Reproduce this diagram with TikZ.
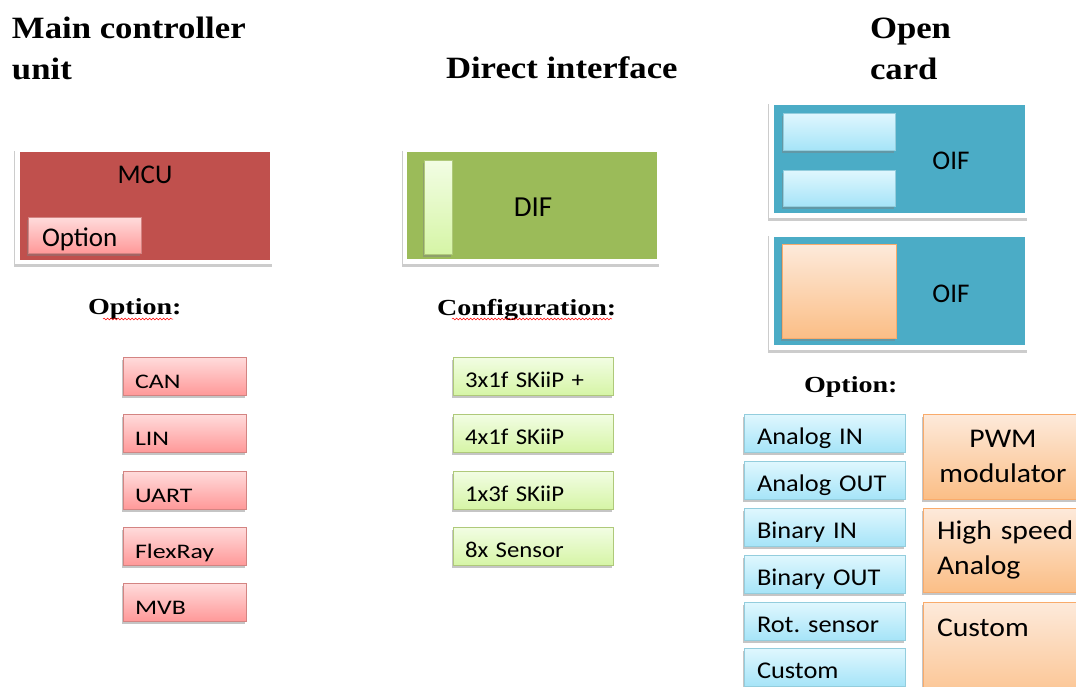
\documentclass[tikz,border=0pt]{standalone}
\usepackage{fontspec}
\setmainfont{Carlito}
\newfontfamily\cA{Carlito}
\newfontfamily\cB[FakeStretch=1.25, WordSpace=0.5]{Carlito}
\newfontfamily\cC[FakeStretch=1.1, WordSpace=0.5]{Carlito}
\newfontfamily\sT[FakeStretch=1.12]{Liberation Serif}
\newfontfamily\sO[FakeStretch=1.22]{Liberation Serif}
\usetikzlibrary{shadows,decorations.pathmorphing}
\frenchspacing
\definecolor{mred}{HTML}{C0504D}
\definecolor{mgreen}{HTML}{9BBB59}
\definecolor{mblue}{HTML}{4BACC6}
\definecolor{morange}{HTML}{F79646}
\definecolor{lbtop}{HTML}{E0F7FE}
\definecolor{lbbot}{HTML}{A6E4F8}
\definecolor{lgtop}{HTML}{F2FDE4}
\definecolor{lgbot}{HTML}{D6F5A6}
\definecolor{lrtop}{HTML}{FFDCDC}
\definecolor{lrbot}{HTML}{FF9999}
\definecolor{lotop}{HTML}{FDEADB}
\definecolor{lobot}{HTML}{FBBE86}
\tikzset{
  frame/.style={fill=white, anchor=north west, drop shadow={shadow xshift=-1.5pt, shadow yshift=-2.5pt, opacity=0.4}},
  panel/.style={anchor=north west},
  sub/.style={anchor=north west, drop shadow={shadow xshift=-1.5pt, shadow yshift=-2.5pt, opacity=0.45}},
  pinkbox/.style={sub, draw=mred!70, line width=0.6pt, top color=lrtop, bottom color=lrbot},
  greenbox/.style={sub, draw=mgreen!80, line width=0.6pt, top color=lgtop, bottom color=lgbot},
  bluebox/.style={sub, draw=mblue!60, line width=0.6pt, top color=lbtop, bottom color=lbbot},
  orangebox/.style={sub, draw=morange!80, line width=0.6pt, top color=lotop, bottom color=lobot},
  listitem/.style={align=left, minimum height=38pt, text depth=0pt},
  title/.style={font=\sT\bfseries\fontsize{31}{41}\selectfont, anchor=base west, align=left},
  subtitle/.style={font=\sO\bfseries\fontsize{23}{28}\selectfont, anchor=base west},
  spell/.style={draw=red, line width=0.5pt, decorate, decoration={snake, amplitude=0.9pt, segment length=3.5pt}},
}
\begin{document}
\begin{tikzpicture}[x=1pt,y=-1pt, every node/.style={inner sep=0pt, outer sep=0pt}]
\fill[white] (0,0) rectangle (1076,686);
\useasboundingbox (0,0) rectangle (1076,686);

% titles
\node[title] (tmain) at (12,79) {Main controller\\unit};
\node[title] (tdir) at (446,78) {Direct interface};
\node[title] (topen) at (870,79) {Open\\card};

% MCU
\node[frame, minimum width=258pt, minimum height=116pt] (mcuframe) at (15,148) {};
\node[panel, fill=mred, minimum width=250pt, minimum height=108pt] (mcu) at (20,152) {};
\node[anchor=base, font=\cA\fontsize{27}{30}\selectfont] (mcut) at (145,183) {MCU};
\node[pinkbox, minimum height=36pt, text width=85pt, inner xsep=14pt, align=left, text height=22pt, text depth=0pt, font=\cA\fontsize{27}{30}\selectfont] (mcuopt) at (28,217) {Option};

% DIF
\node[frame, minimum width=257pt, minimum height=116pt] (difframe) at (403,148) {};
\node[panel, fill=mgreen, minimum width=250pt, minimum height=107pt] (dif) at (407,152) {};
\node[greenbox, minimum width=28pt, minimum height=94pt] (difbar) at (424,160) {};
\node[anchor=base, font=\cA\fontsize{29}{30}\selectfont] (dift) at (533,216) {DIF};

% OIF 1
\node[frame, minimum width=259pt, minimum height=117pt] (oifaframe) at (769,101) {};
\node[panel, fill=mblue, minimum width=251pt, minimum height=108pt] (oifa) at (774,105) {};
\node[bluebox, minimum width=112pt, minimum height=37pt] (oifbar1) at (783,113) {};
\node[bluebox, minimum width=112pt, minimum height=36pt] (oifbar2) at (783,170) {};
\node[anchor=base, font=\cA\fontsize{27}{30}\selectfont] (oifat) at (951,169) {OIF};

% OIF 2
\node[frame, minimum width=259pt, minimum height=117pt] (oifbframe) at (769,233) {};
\node[panel, fill=mblue, minimum width=251pt, minimum height=108pt] (oifb) at (774,237) {};
\node[orangebox, minimum width=114pt, minimum height=94pt] (oifsq) at (782,244) {};
\node[anchor=base, font=\cA\fontsize{27}{30}\selectfont] (oifbt) at (951,302) {OIF};

% headings
\node[subtitle] (hopt1) at (88,314) {Option:};
\node[subtitle] (hconf) at (437,315) {Configuration:};
\node[subtitle] (hopt2) at (804,392) {Option:};
\draw[spell] (hopt1.base west) ++(15,5) -- ++(70,0);
\draw[spell] (hconf.base west) ++(15,4) -- ++(160,0);

% red list
\tikzset{redl/.style={pinkbox, listitem, text width=99pt, inner xsep=12pt, text height=24pt, font=\cB\fontsize{20.7}{24}\selectfont}}
\node[redl] (can) at (123,357) {CAN};
\node[redl] (lin) at (123,414) {LIN};
\node[redl] (uart) at (123,471) {UART};
\node[redl] (flex) at (123,527) {FlexRay};
\node[redl] (mvb) at (123,583) {MVB};

% green list
\tikzset{grnl/.style={greenbox, listitem, text width=136pt, inner xsep=12pt, text height=22pt, font=\cC\fontsize{22.5}{26}\selectfont}}
\node[grnl] (c1) at (453,357) {3x1f SKiiP +};
\node[grnl] (c2) at (453,414) {4x1f SKiiP};
\node[grnl] (c3) at (453,471) {1x3f SKiiP};
\node[grnl] (c4) at (453,527) {8x Sensor};

% blue list
\tikzset{blul/.style={bluebox, listitem, text width=135pt, inner xsep=13pt, text height=22pt, font=\cC\fontsize{24}{28}\selectfont}}
\node[blul] (o1) at (744,414) {Analog IN};
\node[blul] (o2) at (744,461) {Analog OUT};
\node[blul] (o3) at (744,508) {Binary IN};
\node[blul] (o4) at (744,555) {Binary OUT};
\node[blul] (o5) at (744,602) {Rot. sensor};
\node[blul] (o6) at (744,648) {Custom};

% orange list
\tikzset{orgl/.style={orangebox, inner xsep=14pt, font=\cC\fontsize{27}{35}\selectfont}}
\node[orgl, minimum height=85pt, text width=132pt, align=center] (pwm) at (923,414) {PWM\\modulator};
\node[orgl, minimum height=84pt, text width=150pt, align=left] (hsa) at (923,508) {High speed\\Analog};
\node[orgl, minimum height=110pt, minimum width=178pt] (cust) at (923,602) {};
\node[anchor=base west, font=\cC\fontsize{27}{35}\selectfont] (custt) at (937,636) {Custom};
\end{tikzpicture}
\end{document}
